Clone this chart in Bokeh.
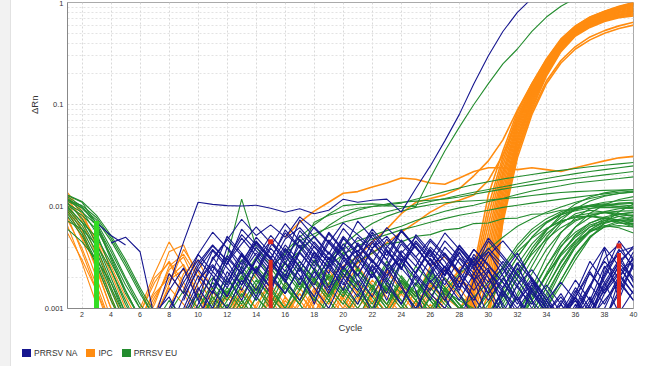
from bokeh.plotting import figure
from bokeh.layouts import column, row
from bokeh.models import FixedTicker, Range1d, Title, CustomJSTickFormatter, Div
from bokeh.embed import file_html
from bokeh.resources import INLINE

# ---------------- data (ΔRn in units of 0.001; None = not plotted) ----------------
# each entry: (first cycle, values for consecutive cycles)
NA_LINES = [
    (6, [0.5,0.8,1.5,2.5,1.2,0.7,2.0,3.5,2.2,1.4,3.8,2.5,1.1,2.7,4.0,1.8,0.9,2.4,3.1,1.5,0.6,2.2,3.6,1.9,0.8,1.6,2.8,1.2,0.5,0.7,1.3,0.6,2.5,3.4,1.8]),
    (3, [6.9,5.2,4.2,None,0.6,1.0,1.8,3.0,2.1,1.3,2.6,4.5,3.2,2.0,4.8,3.3,1.6,2.9,3.7,2.4,1.2,2.8,4.1,2.6,1.3,0.7,1.9,2.5,1.0,0.6,1.8,1.1,0.5,0.9,1.6,3.9,1.2,2.9]),
    (4, [4.4,5.0,3.6,0.8,2.2,1.4,2.8,4.2,2.9,1.7,3.1,5.2,3.6,2.3,4.1,2.8,1.5,3.3,4.6,3.0,1.7,0.9,2.1,3.4,2.2,1.1,0.6,1.4,0.8,0.5,1.2,0.7,0.5,1.1,2.1,3.8,2.6]),
    (7, [0.5,0.9,2.0,3.4,5.6,3.9,2.4,4.4,3.0,5.9,4.0,2.6,4.7,3.3,2.1,3.9,5.1,3.4,2.2,4.0,2.9,1.6,3.2,2.0,1.1,0.7,1.5,0.9,0.6,1.0,2.3,1.4,2.7,4.1]),
    (8, [1.7,4.5,11,10.5,10.2,10.1,10.3,9.6,8.8,9.5,8.5,9.2,11.8,11,11.5,11.8,8.8,15,25,44,80,160,300,520,800,1100,1500,1900,2200,2400,2600,2700,2800]),
    (8, [0.6,1.3,2.4,3.8,2.7,6.0,4.2,3.1,5.5,3.9,6.3,4.5,3.2,5.0,3.6,2.5,4.3,3.0,1.8,2.6,1.4,0.8,1.7,2.5,1.3,0.7,0.5,0.8,1.4,2.9,1.8,0.9,1.5]),
    (9, [0.8,1.6,1.0,2.3,1.5,3.0,4.6,2.8,1.7,3.5,2.2,4.9,3.4,2.0,3.7,2.4,5.3,3.6,2.1,3.9,2.5,1.4,2.2,3.5,1.9,1.0,0.6,0.5,0.9,1.8,3.0,2.0]),
    (10, [0.7,1.9,3.3,2.2,1.3,2.9,1.8,3.6,2.4,1.4,2.6,1.7,3.0,1.9,1.1,2.3,3.8,2.5,4.2,2.8,1.6,0.9,1.7,1.0,0.6,1.1,1.9,1.2,2.6,1.6,3.3]),
    (9, [1.0,2.1,1.4,4.0,2.7,5.0,3.5,2.3,4.2,2.8,5.4,3.7,2.5,4.4,3.0,5.8,4.0,2.7,1.7,3.1,2.0,1.2,2.0,1.2,0.7,0.5,0.8,1.5,0.9,1.7,2.8,1.9]),
    (7, [0.9,1.3,0.7,1.5,2.6,1.7,3.4,2.3,4.1,6.8,4.6,3.1,5.6,3.8,7.2,4.9,3.3,5.9,4.0,2.6,3.5,2.3,1.5,2.4,1.4,0.8,0.5,0.7,1.2,0.8,1.6,3.1,4.3,2.4]),
    (10, [1.2,3.2,2.0,1.2,2.5,1.6,3.3,2.1,1.3,2.8,1.8,1.1,2.2,1.4,3.0,2.0,1.2,2.4,1.5,3.1,2.0,1.3,2.5,1.5,0.9,1.4,0.8,1.3,0.7,1.9,1.2]),
    (9, [0.6,1.1,2.3,5.1,3.5,2.3,4.6,3.2,7.4,5.0,3.4,6.1,4.2,2.8,4.8,3.3,2.2,3.7,2.5,1.6,2.7,3.6,2.1,1.2,2.0,1.2,0.7,1.3,2.4,4.0,2.6,1.6]),
    (10, [0.8,1.5,1.0,1.9,1.2,2.2,1.4,2.5,1.6,1.0,2.0,1.3,2.6,1.7,1.1,2.1,1.4,1.0,1.8,1.2,2.3,1.5,1.0,1.6,1.0,0.6,1.1,0.7,1.4,2.2,1.4]),
    (11, [1.4,2.8,4.9,3.3,2.2,3.9,2.6,4.5,3.1,2.0,3.5,5.6,3.8,2.5,4.4,3.0,1.9,1.2,2.2,1.4,0.8,1.3,0.8,0.5,0.9,1.6,1.0,2.0,3.6,4.0]),
    (10, [1.8,3.0,4.7,7.5,5.2,6.6,5.0,7.9,6.1,4.4,6.9,5.3,3.9,6.2,4.5,3.2,4.8,3.4,2.3,3.8,2.7,1.8,1.1,1.9,1.2,0.8,1.3,2.2,1.5,2.6,1.6]),
    (11, [2.0,1.3,2.4,1.5,2.9,1.9,1.2,2.3,1.5,3.2,2.1,1.3,2.5,1.6,1.0,1.9,1.2,2.1,1.3,0.8,1.5,0.9,0.6,1.0,0.7,0.5,0.9,1.5,2.3,3.0]),
    (9, [1.2,2.6,4.1,3.0,5.3,3.7,2.6,4.8,6.2,4.3,3.0,5.1,3.6,6.0,4.1,2.9,4.6,3.2,5.5,3.8,2.6,3.9,2.7,1.7,2.4,1.5,0.9,1.3,0.8,1.6,2.9,3.9]),
    (10, [2.4,1.6,3.1,2.2,4.0,2.8,1.9,3.5,2.4,4.4,3.0,2.1,3.8,2.6,4.7,3.2,2.2,4.0,2.8,1.9,3.3,4.6,3.1,2.0,1.3,0.8,1.2,0.7,1.0,2.0,3.1]),
    (9, [1.5,3.4,2.3,1.6,2.9,4.6,3.1,2.1,3.7,5.1,3.5,2.4,4.2,2.9,2.0,3.5,5.0,3.4,2.3,4.1,2.8,4.9,3.3,2.2,1.5,1.0,0.6,0.9,1.7,1.1,2.1,1.4]),
    (11, [3.1,4.8,3.3,2.2,3.9,2.7,5.8,4.0,2.8,4.9,3.4,2.3,4.0,5.7,3.9,2.7,4.6,3.2,2.2,3.6,2.5,1.6,1.1,1.7,1.1,0.7,1.1,2.2,4.6,3.0]),
    (10, [1.9,2.7,1.8,3.3,2.3,1.6,2.8,1.9,3.6,2.5,1.7,3.0,2.0,3.7,2.5,1.7,3.1,2.1,3.9,2.7,1.8,2.9,1.9,1.2,0.8,1.1,0.7,1.2,0.8,1.4,2.6]),
    (12, [2.8,4.3,6.3,4.4,3.0,5.2,3.6,2.5,4.3,3.0,5.3,3.6,2.5,4.4,3.0,2.1,3.5,2.4,4.6,3.1,2.1,1.4,0.9,1.3,0.8,0.5,0.8,1.5,2.7]),
    (9, [0.9,1.8,3.7,2.5,1.7,3.0,2.0,1.4,2.5,1.7,3.2,2.2,1.5,2.7,1.8,3.3,2.2,1.5,2.6,1.8,3.4,2.3,1.6,2.8,1.9,1.2,1.8,1.2,0.8,1.2,1.8,1.2]),
    (13, [2.2,3.5,2.4,4.2,2.9,2.0,3.6,2.5,4.4,3.0,2.1,3.7,2.6,4.6,3.2,2.2,3.8,2.6,1.8,1.2,1.7,1.1,0.7,1.0,1.7,2.9,2.0,3.6]),
]

EU_LINES = [
    (1, [12.5,10,6.5,3.0,1.4,0.8,0.6,1.0,0.7,1.3,2.0,1.4,2.6,1.7,1.1,2.2,1.5,3.0,2.0,1.3,2.4,1.6,1.0,1.9,1.3,2.1,1.5,1.2,1.0,0.8,0.6,0.9,1.6,3.2,5.5,7.8,9.5,10.2,10.8,11.0]),
    (1, [11.8,9.0,5.5,2.4,1.1,0.6,None,None,0.6,1.0,1.6,1.0,1.9,3.2,2.1,1.4,2.6,1.8,1.2,2.3,3.4,2.2,1.5,2.8,1.9,1.3,2.0,1.4,0.9,0.6,0.8,1.4,2.6,4.6,6.8,8.5,9.2,8.8,8.0,7.4]),
    (1, [10.9,7.6,4.4,2.0,0.9,0.5,None,None,None,None,0.8,1.4,2.3,1.5,2.8,1.9,1.2,2.5,1.7,3.6,2.4,1.6,2.9,2.0,1.3,2.4,1.6,1.1,0.8,1.2,1.9,3.2,5.0,6.9,8.3,9.4,10.1,10.4,10.0,9.6]),
    (1, [10.2,8.2,6.0,3.3,1.7,1.0,0.7,0.5,None,0.7,1.2,2.0,1.3,2.4,1.6,1.0,1.8,1.2,2.2,1.5,1.0,1.7,1.1,2.1,1.4,0.9,1.5,2.2,2.9,3.8,5.0,6.4,7.6,8.8,9.9,11.0,12.0,12.8,13.4,14.0]),
    (1, [9.5,6.5,3.6,1.6,0.8,None,None,None,None,None,None,0.7,1.2,0.8,1.5,1.0,2.0,1.3,0.9,1.6,1.1,2.3,1.5,1.0,1.7,1.2,0.8,0.6,0.5,0.7,0.6,0.8,1.2,2.1,3.5,5.0,6.3,7.0,7.3,7.1]),
    (1, [12.0,9.6,7.0,3.9,2.0,1.1,0.7,1.2,0.8,0.6,1.1,1.8,3.0,2.0,1.3,2.4,1.6,2.9,1.9,1.3,2.2,1.5,2.7,1.8,1.2,2.0,1.4,1.0,1.3,1.8,2.5,3.6,4.9,6.1,7.2,7.8,8.0,7.6,7.0,6.5]),
    (1, [8.5,5.5,2.9,1.3,0.6,0.5,None,None,None,None,None,None,0.9,1.6,1.0,1.8,2.9,1.9,1.3,2.5,1.7,1.1,2.0,1.4,2.6,1.8,1.2,0.8,0.6,0.5,0.7,0.5,0.8,1.4,2.5,4.0,5.6,6.8,7.5,7.9]),
    (1, [11.2,9.8,7.4,4.6,2.6,1.4,0.8,0.5,None,None,0.6,1.1,0.7,1.3,0.9,1.7,1.1,0.7,1.4,2.4,1.6,1.0,1.8,1.2,0.8,1.3,0.9,0.6,0.9,1.5,2.6,4.2,6.0,7.6,8.9,9.8,10.3,10.6,10.4,10.1]),
    (1, [10.6,8.8,6.6,3.6,1.9,1.0,0.6,None,None,None,None,0.8,1.4,0.9,1.7,2.8,1.8,1.2,2.1,1.4,2.5,1.6,1.1,1.9,1.3,2.2,1.5,1.0,0.7,0.5,0.6,0.9,1.5,2.6,4.1,5.6,6.9,7.9,8.5,8.7]),
    (1, [12.8,11.0,6.8,3.2,1.5,0.8,0.5,0.9,1.5,1.0,1.8,1.2,2.1,1.4,2.5,1.6,1.1,1.9,2.9,3.8,4.6,5.2,5.8,6.4,7.3,8.1,9.0,9.7,10.3,11.2,12.0,13.1,14.2,15.1,16.0,17.0,17.6,18.2,18.8,19.5]),
    (1, [9.0,6.0,3.2,1.5,0.7,None,None,None,None,0.6,1.4,3.2,11.8,4.0,2.6,3.4,4.6,5.4,6.2,7.0,7.6,8.2,8.9,9.6,10.4,11.2,12.0,12.9,13.8,14.7,15.6,16.6,17.7,18.8,19.9,21.0,22.0,23.0,24.0,25.0]),
    (1, [8.0,5.2,2.7,1.2,0.6,None,None,None,None,None,0.7,1.2,2.0,1.3,2.4,3.6,5.0,6.6,8.4,10.2,10.5,10.6,10.4,10.8,11.8,12.8,14.0,15.2,16.4,17.5,18.6,19.6,20.6,21.6,22.6,23.6,24.5,25.4,26.2,27.0]),
    (1, [9.8,7.0,4.0,1.8,0.8,None,None,None,None,0.7,1.3,0.9,1.7,2.6,1.8,2.9,3.6,7.0,8.2,9.0,9.6,10.0,10.2,10.0,10,19,35,60,100,160,250,350,520,720,920,1100,1300,1500,1700,1900]),
    (1, [11.5,10.2,7.8,4.9,2.8,1.5,0.8,0.5,None,0.6,1.0,1.6,1.1,1.9,1.3,0.9,1.5,2.4,1.6,1.1,1.9,1.3,0.9,1.5,1.0,1.6,1.1,0.8,0.6,0.8,1.2,2.0,3.6,5.4,7.0,8.1,8.6,8.7,8.4,8.0]),
    (1, [7.2,6.0,4.2,2.4,1.2,0.6,None,None,None,None,0.6,1.0,0.7,1.3,0.9,1.6,1.1,0.7,1.2,0.8,1.4,0.9,1.6,1.1,0.7,1.0,0.7,0.5,0.6,0.9,1.5,2.7,4.3,6.0,7.2,7.9,8.1,7.8,7.3,6.8]),
    (1, [13.0,11.2,8.2,5.2,3.0,1.6,0.9,0.6,0.9,1.4,0.9,1.5,1.0,1.7,2.7,1.8,1.2,2.0,1.3,2.2,1.5,1.0,1.7,1.1,1.8,1.2,0.8,0.6,0.9,1.4,2.4,3.9,5.6,7.1,8.3,9.1,9.6,9.8,9.7,9.5]),
    (1, [6.0,4.5,3.0,1.8,0.9,0.5]),
    (1, [10.0,7.0,5.0,2.8,1.5,0.8,0.5]),
    (20, [1.2,0.8,1.5,1.0,0.7,1.2,0.8,0.6,0.5,0.7,1.1,1.9,3.2,5.0,7.0,8.6,9.6,10.0,10.2,10.0,9.8]),
    (22, [0.9,1.6,1.1,0.7,1.3,0.9,0.6,0.5,0.6,0.8,1.3,2.2,3.8,5.6,7.2,8.2,8.8,8.6,8.1]),
    (25, [1.4,0.9,1.6,1.1,0.7,0.5,0.6,0.5,0.7,1.0,1.7,3.0,4.9,6.9,8.9,10.6]),
    (26, [1.0,1.5,1.0,0.7,0.5,0.6,0.8,1.4,2.6,4.4,6.3,7.8,8.9,9.5,9.9]),
    (27, [1.6,1.1,0.8,0.6,0.5,0.6,1.0,1.8,3.4,5.3,6.9,7.7,7.4,6.6]),
    (24, [2.0,1.4,2.3,1.6,1.1,0.8,0.6,0.5,0.7,1.2,2.2,4.0,6.3,8.6,10.4,11.7,12.5]),
    (28, [1.3,0.9,0.6,0.5,0.5,0.7,1.1,1.9,3.3,5.0,6.4,7.2,7.6]),
    (23, [1.1,1.8,1.2,0.8,1.4,1.0,0.7,0.9,1.4,2.2,3.4,4.8,6.2,7.4,8.2,8.7,9.0,9.1]),
    (18, [1.8,2.6,3.4,4.1,4.8,5.3,5.9,6.4,7.0,7.6,8.2,8.7,9.2,9.8,10.3,10.8,11.3,11.8,12.3,12.8,13.3,13.8,14.2]),
    (20, [2.0,2.9,3.5,4.3,4.5,5.1,5.3,5.9,6.1,6.8,6.9,7.6,7.7,8.4,8.5,9.2,9.3,10.0,10.1,10.6,10.7]),
    (29, [1.0,0.7,0.5,0.6,0.9,1.6,2.9,4.6,6.3,7.6,8.4,8.8]),
    (30, [0.8,0.6,0.5,0.7,1.2,2.3,4.0,5.9,7.3,8.0,8.3]),
    (27, [1.2,0.8,0.6,0.7,1.0,1.7,3.0,5.0,7.3,9.5,11.3,12.6,13.4,13.8]),
    (31, [0.6,0.5,0.6,1.0,1.9,3.4,5.1,6.3,6.9,6.8]),
    (25, [1.5,1.0,0.7,0.5,0.6,0.8,1.3,2.3,3.9,5.9,7.8,9.3,10.3,11.0,11.4,11.6]),
    (28, [0.9,0.6,0.5,0.6,0.8,1.3,2.1,3.3,4.6,5.7,6.3,6.5,6.3]),
    (26, [1.3,0.9,0.6,0.5,0.7,1.1,2.0,3.6,5.8,8.3,10.6,12.4,13.6,14.3,14.7]),
    (32, [0.5,0.7,1.3,2.5,4.2,5.9,7.0,7.4,7.3]),
    (30, [0.7,0.5,0.6,0.9,1.6,2.8,4.4,5.8,6.5,6.2,5.5]),
    (29, [0.8,0.6,0.5,0.7,1.2,2.1,3.5,5.2,6.6,7.3,7.0,6.3]),
    (16, [2.5,3.6,5.0,6.5,8.0,9.2,10.0,10.6,11.0,11.3,11.5,11.8,12.4,13.2,14.0,14.8,15.6,16.4,17.2,18.0,18.8,19.6,20.4,21.2,22.0]),
    (19, [3.0,4.2,5.5,6.8,8.0,9.0,9.8,10.4,10.9,11.2,11.4,11.6,11.9,12.3,12.8,13.3,13.7,14.0,14.2,14.4,14.5,14.6]),
]

IPC_BASELINE = [
    (1, [13.7,9.0,4.0,1.6,0.7,None,0.8,1.6,1.1,0.7,1.2,0.8,1.5,1.0,2.0,1.3,0.9,1.6,1.1,2.2,1.4,0.9,1.7,1.2,0.8,1.4,1.0,0.7,0.6]),
    (1, [11.0,6.0,2.5,1.0,0.5,1.0,2.2,4.5,2.6,1.4,0.8,1.3,0.9,1.7,1.1,0.7,1.2,2.0,1.3,0.9,1.5,1.0,2.4,1.6,1.1,1.8,1.2,0.8,0.6]),
    (1, [9.5,4.8,2.0,0.8,None,0.8,1.5,3.6,4.2,2.0,1.1,0.7,1.1,0.7,1.3,0.9,1.6,1.0,0.7,1.3,0.8,1.4,0.9,1.9,1.3,2.6,3.2,2.1,1.2]),
    (1, [8.0,3.6,1.5,0.6,None,0.6,1.2,2.4,3.2,1.6,0.9,1.4,1.0,0.6,1.0,1.8,1.2,0.8,1.5,1.0,0.7,1.2,0.8,1.5,1.0,1.7,1.2,2.5,3.0]),
    (1, [12.3,7.2,3.3,1.3,0.6,None,None,1.0,2.2,3.0,1.5,0.8,1.3,2.2,1.4,0.9,1.4,0.9,1.7,1.1,0.8,1.3,2.3,1.5,1.0,1.6,2.4,1.6,1.0]),
    (1, [6.5,2.8,1.1,0.5,None,None,0.8,1.7,3.8,2.3,1.3,0.9,1.5,1.0,0.7,1.1,0.7,1.3,0.9,1.6,2.6,1.7,1.1,0.7,1.2,0.8,1.3,1.9,1.4]),
    (1, [10.2,5.6,2.4,1.0,None,0.9,2.0,2.8,1.6,0.9,1.5,1.0,0.6,1.0,0.7,1.2,0.8,1.4,2.4,1.5,1.0,1.6,1.1,0.7,1.1,0.8,1.4,2.1,2.9]),
    (1, [7.4,3.9,1.7,0.7,0.5,0.8,1.4,2.0,2.7,1.4,0.8,0.6,1.0,1.6,1.1,0.7,1.1,1.8,1.2,0.8,1.3,0.9,1.5,1.0,0.7,1.1,0.7,1.0,1.5]),
    (1, [12.8,8.4,4.6,2.2,1.0,0.6,1.1,2.6,3.4,2.0,1.1,0.7,1.2,0.8,1.4,1.0,0.6,1.1,1.8,1.2,0.8,1.4,0.9,1.6,1.1,0.7,1.2,2.0,1.5]),
    (1, [9.0,5.0,2.6,1.2,0.6,0.9,1.8,2.9,1.8,1.0,0.6,1.0,1.6,1.0,0.7,1.3,0.8,1.5,1.0,0.7,1.2,1.9,1.3,0.9,1.5,1.0,1.6,2.4,2.0]),
    (1, [5.5,3.0,1.5,0.7,None,0.7,1.3,2.2,1.4,0.8,1.3,0.9,0.6,1.1,1.7,1.1,0.7,1.2,0.8,1.4,0.9,0.6,1.0,1.7,1.2,0.8,1.3,1.0,1.6]),
    (1, [11.5,7.8,4.8,2.6,1.3,0.7,0.9,1.9,2.4,1.3,0.8,1.4,1.0,0.7,1.2,0.8,1.4,0.9,1.5,1.0,1.8,1.2,0.8,1.4,0.9,1.5,2.0,1.3,1.1]),
]

IPC_AMPLIFIED = [
    (28, [0.4,2.5,13,35,85,160,280,440,590,720,820,920,1000]),
    (28, [0.4,2.2,10,31,79,154,272,430,580,707,806,902,978]),
    (28, [0.4,1.9,8.2,28,74,148,265,421,570,694,792,885,957]),
    (28, [0.3,1.7,6.7,25,69,142,258,412,560,682,779,868,936]),
    (28, [0.3,1.5,5.5,22,65,136,251,403,550,670,766,851,915]),
    (28, [0.3,1.3,4.5,20,61,131,244,395,541,658,753,834,894]),
    (28, [0.3,1.1,3.7,18,57,126,237,387,531,646,740,817,873]),
    (28, [0.2,1.0,3.0,16,53,121,231,379,522,634,727,800,853]),
    (28, [0.2,0.9,2.4,14,49,116,224,371,513,623,714,784,833]),
    (28, [0.2,0.8,1.9,12.5,46,111,218,363,504,612,701,768,814]),
    (28, [0.2,0.6,1.4,11,43,106,211,355,495,601,688,752,795]),
    (28, [0.2,0.5,1.0,9.8,40,101,204,346,486,591,675,737,776]),
    (28, [0.2,0.4,0.7,8.6,37,95,197,338,478,580,662,723,758]),
    (28, [0.2,0.3,0.4,7.5,35,90,190,330,470,570,650,710,740]),
    (28, [0.2,0.4,1.0,8,33,85,170,270,370,460,530,590,640]),
    (28, [0.2,0.3,0.8,7,30,80,160,255,350,430,500,555,600]),
    (16, [5.0,7.0,9.0,11.0,13.5,14.0,15.5,17.0,19.0,18.5,17.0,16.5,19.0,22.0,24.0,24.0,23.0,24.0,23.0,22.0,24.0,26.0,28.0,30.0,31.0]),
    (18, [1.5,2.0,2.6,3.2,4.5,6.0,8.5,11,12,13,15,20,28,45,88,160,275,430,585,715,815,910,990]),
    (20, [2.0,2.8,3.5,4.4,5.6,7.0,8.8,10.5,11.5,13.0,18,32,70,140,255,410,565,700,800,890,960]),
]

# Ct / baseline markers: cycle, bar top, marker top (units of 0.001)
RED_MARK_CYCLES = [15, 39]
RED_BAR_TOPS = [3.0, 3.5]
RED_DOT_TOPS = [4.5, 4.1]
GREEN_MARK_CYCLES = [3]
GREEN_BAR_TOPS = [7.2]

SERIES_NAMES = ["PRRSV NA", "IPC", "PRRSV EU"]
NA_COLOR = "#16168f"
IPC_COLOR = "#ff8c10"
EU_COLOR = "#238c2e"
SERIES_COLORS = [NA_COLOR, IPC_COLOR, EU_COLOR]

X_TICKS = list(range(2, 41, 2))
Y_TICKS = [0.001, 0.01, 0.1, 1]

# ---------------- main figure ----------------
p = figure(width=631, height=335, output_backend="svg", toolbar_location=None,
           y_axis_type="log", x_range=Range1d(1, 40), y_range=Range1d(0.001, 1),
           min_border_left=56, min_border_right=9, min_border_top=2, min_border_bottom=26)
p.background_fill_color = "white"
p.border_fill_color = "white"
p.outline_line_color = "#aaaaaa"

minor = [m * 10 ** e for e in (-3, -2, -1) for m in range(2, 10)]
p.yaxis.ticker = FixedTicker(ticks=Y_TICKS, minor_ticks=minor)
p.xaxis.ticker = FixedTicker(ticks=X_TICKS)
p.yaxis.formatter = CustomJSTickFormatter(code="return String(tick);")

for ax in (p.xaxis, p.yaxis):
    ax.axis_line_color = "#888888"
    ax.major_tick_line_color = None
    ax.minor_tick_line_color = None
    ax.major_tick_out = 0
    ax.major_tick_in = 0
    ax.minor_tick_out = 0
    ax.minor_tick_in = 0
    ax.major_label_text_color = "#333333"
    ax.major_label_text_font = "Liberation Sans"
p.xaxis.major_label_text_font_size = "7px"
p.yaxis.major_label_text_font_size = "7.5px"
p.xaxis.major_label_standoff = 3
p.yaxis.major_label_standoff = 4
p.xaxis.axis_label = "Cycle"
p.xaxis.axis_label_text_font = "Liberation Sans"
p.xaxis.axis_label_text_font_size = "9.5px"
p.xaxis.axis_label_text_font_style = "normal"
p.xaxis.axis_label_text_color = "#333333"
p.xaxis.axis_label_standoff = 2

p.xgrid.grid_line_color = "#d9d9d9"
p.xgrid.grid_line_dash = "2 2"
p.ygrid.grid_line_color = "#d9d9d9"
p.ygrid.grid_line_dash = "2 2"
p.ygrid.minor_grid_line_color = "#e3e3e3"
p.ygrid.minor_grid_line_dash = "2 2"


def draw(lines, color, width=1.1):
    for start, vals in lines:
        xs = list(range(start, start + len(vals)))
        ys = [float("nan") if v is None else v / 1000.0 for v in vals]
        p.line(xs, ys, line_color=color, line_width=width)

draw(IPC_BASELINE, IPC_COLOR)
draw(IPC_AMPLIFIED, IPC_COLOR, 1.6)
draw(EU_LINES, EU_COLOR)
draw(NA_LINES, NA_COLOR)

# markers
p.segment(x0=GREEN_MARK_CYCLES, y0=[0.0009] * len(GREEN_MARK_CYCLES), x1=GREEN_MARK_CYCLES,
          y1=[v / 1000 for v in GREEN_BAR_TOPS], line_color="#33dd22", line_width=5)
p.segment(x0=RED_MARK_CYCLES, y0=[0.0009] * len(RED_MARK_CYCLES), x1=RED_MARK_CYCLES,
          y1=[v / 1000 for v in RED_BAR_TOPS], line_color="#e02a1e", line_width=4)
p.scatter(x=RED_MARK_CYCLES, y=[v / 1000 for v in RED_DOT_TOPS], marker="square", size=5,
          fill_color="#e02a1e", line_color=None)

# y axis title, placed near the 0.1 level as in the original
p.add_layout(Title(text="ΔRn", align="right", offset=93, text_font="Liberation Sans",
                   text_font_size="9.5px", text_font_style="normal", text_color="#333333",
                   standoff=4), "left")

# ---------------- legend strip (HTML) ----------------
items = []
for i, (name, col) in enumerate(zip(SERIES_NAMES, SERIES_COLORS)):
    ml = "margin-left:9px;" if i else ""
    items.append(f'<span style="display:inline-block;width:9px;height:8px;background:{col};'
                 f'margin-right:3px;{ml}"></span><span>{name}</span>')
legend_html = ('<div style="display:flex;align-items:center;height:8px;margin-top:14px;'
               'padding-left:11px;font-family:\'Liberation Sans\',Arial,sans-serif;'
               'font-size:8.5px;color:#333333;white-space:nowrap">' + "".join(items) + '</div>')
legend_div = Div(text=legend_html, width=631, height=31, margin=0)

side = Div(text="", width=11, height=366, margin=0,
           styles={"background-color": "#f2f2f2", "border-right": "1px solid #e2e2e2",
                   "box-sizing": "border-box"})

layout = row(side, column(p, legend_div, spacing=0), spacing=0)
open("out.html", "w").write(file_html(layout, INLINE))
